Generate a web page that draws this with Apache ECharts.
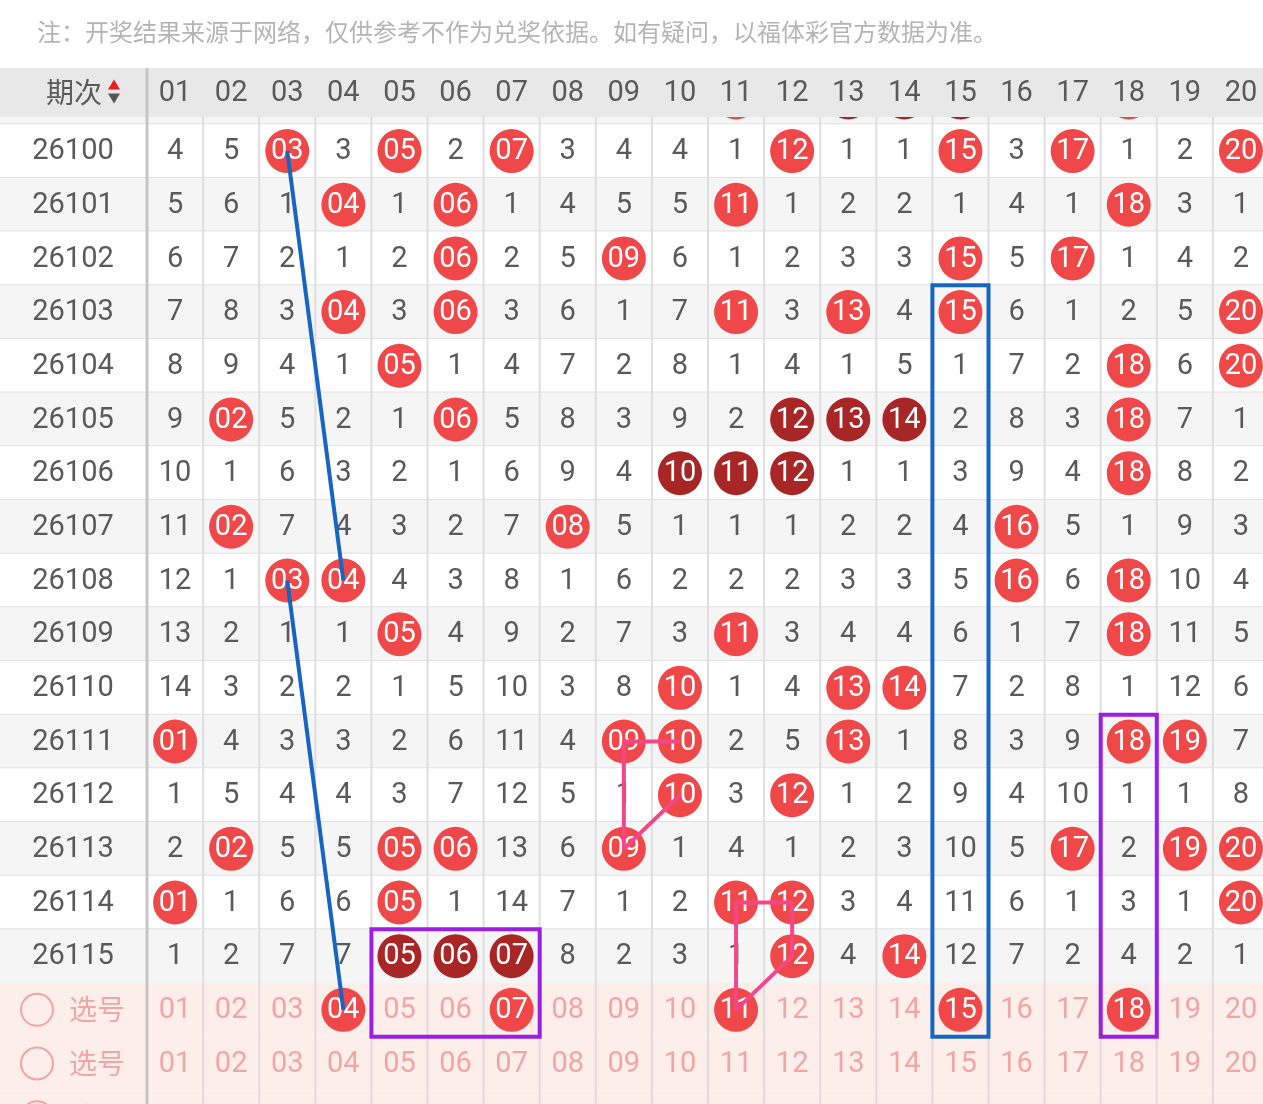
<!DOCTYPE html>
<html><head><meta charset="utf-8">
<script src="https://cdn.jsdelivr.net/npm/echarts@6/dist/echarts.min.js"></script>
<style>html,body{margin:0;padding:0;background:#fff}#c{width:1263px;height:1104px}</style>
</head><body><div id="c"></div>
<script>
// ---------- data ----------
const noteText = '注：开奖结果来源于网络，仅供参考不作为兑奖依据。如有疑问，以福体彩官方数据为准。';
const headerTitle = '期次';
const columns = ['01','02','03','04','05','06','07','08','09','10','11','12','13','14','15','16','17','18','19','20'];
const periods = ['26099','26100','26101','26102','26103','26104','26105','26106','26107','26108','26109','26110','26111','26112','26113','26114','26115'];
const pickLabel = '选号';
const pickRowCount = 3;
// omission values per period; 0 = number drawn in that period
const omission = [
  [3,4,2,2,1,1,5,2,3,3,0,6,0,0,0,2,1,0,1,4],
  [4,5,0,3,0,2,0,3,4,4,1,0,1,1,0,3,0,1,2,0],
  [5,6,1,0,1,0,1,4,5,5,0,1,2,2,1,4,1,0,3,1],
  [6,7,2,1,2,0,2,5,0,6,1,2,3,3,0,5,0,1,4,2],
  [7,8,3,0,3,0,3,6,1,7,0,3,0,4,0,6,1,2,5,0],
  [8,9,4,1,0,1,4,7,2,8,1,4,1,5,1,7,2,0,6,0],
  [9,0,5,2,1,0,5,8,3,9,2,0,0,0,2,8,3,0,7,1],
  [10,1,6,3,2,1,6,9,4,0,0,0,1,1,3,9,4,0,8,2],
  [11,0,7,4,3,2,7,0,5,1,1,1,2,2,4,0,5,1,9,3],
  [12,1,0,0,4,3,8,1,6,2,2,2,3,3,5,0,6,0,10,4],
  [13,2,1,1,0,4,9,2,7,3,0,3,4,4,6,1,7,0,11,5],
  [14,3,2,2,1,5,10,3,8,0,1,4,0,0,7,2,8,1,12,6],
  [0,4,3,3,2,6,11,4,0,0,2,5,0,1,8,3,9,0,0,7],
  [1,5,4,4,3,7,12,5,1,0,3,0,1,2,9,4,10,1,1,8],
  [2,0,5,5,0,0,13,6,0,1,4,1,2,3,10,5,0,2,0,0],
  [0,1,6,6,0,1,14,7,1,2,0,0,3,4,11,6,1,3,1,0],
  [1,2,7,7,0,0,0,8,2,3,1,0,4,0,12,7,2,4,2,1]
];
const pickedNumbers = [4,7,11,15,18];           // selected in first 选号 row
// annotation polylines, as [column, rowIndex] cell references
const blueLinks = [ [[3,1],[4,9]], [[3,9],[4,17]] ];
const pinkLinks = [ [[10,12],[9,12],[9,14],[10,13]], [[11,15],[12,15],[12,16],[11,17],[11,15]] ];
// annotation boxes: [firstCol, lastCol, firstRow, lastRow]
const blueBoxes = [ [15,15,4,17] ];
const purpleBoxes = [ [18,18,12,17], [5,7,16,17] ];

// ---------- layout / style ----------
const COL_W = 56.1, LEFT_W = 147, ROW_H = 53.67, GRID_TOP = 70.6;
const HEADER_TOP = 68, HEADER_H = 49;
const XMIN = 0.5 - LEFT_W / COL_W, XMAX = columns.length + 0.5;
const NROWS = periods.length + pickRowCount;
const NUM_FONT = 'Roboto, "Noto Sans", sans-serif';
const CJK_FONT = '"Noto Sans CJK SC", "Noto Sans", sans-serif';
const TXT = '#5a5a5a', RED = '#f04848', DARK = '#a82626', PINK_TXT = '#f2a5a5';
const BALL_R = 22;
const FS = 29;

function runLen(row, i) {
  let a = i, b = i;
  while (a > 0 && row[a-1] === 0) a--;
  while (b < row.length-1 && row[b+1] === 0) b++;
  return b - a + 1;
}

// cells
const cellMeta = [], cellData = [];
omission.forEach((row, r) => row.forEach((v, i) => {
  const kind = v === 0 ? (runLen(row, i) >= 3 ? 'dark' : 'ball') : 'num';
  cellData.push([i+1, r]);
  cellMeta.push({ text: v === 0 ? columns[i] : String(v), kind });
}));
for (let k = 0; k < pickRowCount; k++) {
  const r = periods.length + k;
  columns.forEach((lab, i) => {
    const sel = k === 0 && pickedNumbers.includes(i+1);
    cellData.push([i+1, r]);
    cellMeta.push({ text: lab, kind: sel ? 'ball' : 'pick' });
  });
}

function txt(x, y, text, font, fill, align) {
  return { type: 'text', style: { text, x, y, font, fill,
    textAlign: align || 'center', textVerticalAlign: 'middle', align: align || 'center', verticalAlign: 'middle' } };
}

const rowIdx = Array.from({length: NROWS}, (_, i) => [0, i]);

const option = {
  animation: false,
  backgroundColor: '#ffffff',
  grid: { left: 0, top: GRID_TOP, width: LEFT_W + columns.length * COL_W, height: NROWS * ROW_H,
          outerBoundsMode: 'none', containLabel: false },
  xAxis: { type: 'value', min: XMIN, max: XMAX, show: false },
  yAxis: { type: 'value', min: -0.5, max: NROWS - 0.5, inverse: true, show: false },
  graphic: [
    { type: 'text', left: 37, top: 20, z: 100,
      style: { text: noteText, font: '24px ' + CJK_FONT, fill: '#b4b4b4' } }
  ],
  series: [
    { // row backgrounds + horizontal lines
      type: 'custom', z: 1, silent: true, data: rowIdx,
      renderItem(params, api) {
        const r = api.value(1);
        const p0 = api.coord([XMIN, r - 0.5]), p1 = api.coord([XMAX, r + 0.5]);
        const fill = r >= periods.length ? '#fdeeea' : (r % 2 === 0 ? '#f5f5f5' : '#ffffff');
        const ch = [{ type: 'rect', shape: { x: p0[0], y: p0[1], width: p1[0]-p0[0], height: p1[1]-p0[1] }, style: { fill } }];
        if (r < periods.length - 1) ch.push({ type: 'line', shape: { x1: p0[0], y1: p1[1], x2: p1[0], y2: p1[1] }, style: { stroke: '#e1e1e1', lineWidth: 2 } });
        return { type: 'group', children: ch };
      }
    },
    { // vertical column lines
      type: 'custom', z: 2, silent: true, data: columns.map((_, i) => [i + 1, 0]),
      renderItem(params, api) {
        const c = api.value(0);
        const a = api.coord([c + 0.5, -0.5]), b = api.coord([c + 0.5, NROWS - 0.5]);
        return { type: 'line', shape: { x1: a[0], y1: a[1], x2: b[0], y2: b[1] }, style: { stroke: '#dedede', lineWidth: 2 } };
      }
    },
    { // left labels
      type: 'custom', z: 3, silent: true, data: rowIdx,
      renderItem(params, api) {
        const r = api.value(1);
        const p = api.coord([XMIN, r]);
        if (r < periods.length) return txt(p[0] + 73, p[1] + 1, periods[r], FS + 'px ' + NUM_FONT, TXT);
        return { type: 'group', children: [
          { type: 'circle', shape: { cx: p[0] + 37, cy: p[1], r: 16 }, style: { fill: 'none', stroke: '#f2a3a3', lineWidth: 2 } },
          txt(p[0] + 97, p[1], pickLabel, '28px ' + CJK_FONT, PINK_TXT)
        ]};
      }
    },
    { // cells
      type: 'custom', z: 4, silent: true, data: cellData,
      renderItem(params, api) {
        const m = cellMeta[params.dataIndex];
        const p = api.coord([api.value(0), api.value(1)]);
        const font = FS + 'px ' + NUM_FONT;
        if (m.kind === 'num') return txt(p[0], p[1] + 1, m.text, font, TXT);
        if (m.kind === 'pick') return txt(p[0], p[1] + 1, m.text, font, PINK_TXT);
        return { type: 'group', children: [
          { type: 'circle', shape: { cx: p[0], cy: p[1], r: BALL_R }, style: { fill: m.kind === 'dark' ? DARK : RED } },
          txt(p[0], p[1] + 1, m.text, font, '#ffffff')
        ]};
      }
    },
    ...blueLinks.map(d => ({ type: 'line', z: 6, data: d, symbol: 'none', silent: true,
      lineStyle: { color: '#1565c4', width: 4 } })),
    ...pinkLinks.map(d => ({ type: 'line', z: 6, data: d, symbol: 'none', silent: true,
      lineStyle: { color: '#f4478a', width: 4 } })),
    ...[[blueBoxes, '#1565c4'], [purpleBoxes, '#9a1fe2']].map(([boxes, color]) => ({
      type: 'custom', z: 7, silent: true, data: boxes,
      renderItem(params, api) {
        const a = api.coord([api.value(0) - 0.5, api.value(2) - 0.5]);
        const b = api.coord([api.value(1) + 0.5, api.value(3) + 0.5]);
        return { type: 'rect', shape: { x: a[0], y: a[1], width: b[0]-a[0], height: b[1]-a[1] },
          style: { fill: 'none', stroke: color, lineWidth: 4 } };
      }
    })),
    { // header row
      type: 'custom', z: 10, silent: true, data: [[0, 0]].concat(columns.map((_, i) => [i + 1, 0])),
      renderItem(params, api) {
        const c = api.value(0);
        const cy = HEADER_TOP + HEADER_H / 2;
        if (c === 0) {
          const l = api.coord([XMIN, 0])[0], rr = api.coord([XMAX, 0])[0];
          const sx = api.coord([0.5, 0])[0];
          return { type: 'group', children: [
            { type: 'rect', shape: { x: l, y: HEADER_TOP, width: rr - l, height: HEADER_H }, style: { fill: '#e8e8e8' } },
            txt(l + 102, cy, headerTitle, '28px ' + CJK_FONT, TXT, 'right'),
            { type: 'polygon', shape: { points: [[l+114, cy-13],[l+108, cy-3],[l+120, cy-3]] }, style: { fill: '#ee1c1c' } },
            { type: 'polygon', shape: { points: [[l+108, cy+1],[l+120, cy+1],[l+114, cy+11]] }, style: { fill: '#555555' } },
            { type: 'line', shape: { x1: sx, y1: HEADER_TOP, x2: sx, y2: 1200 }, style: { stroke: '#c6c6c6', lineWidth: 3 } }
          ]};
        }
        const x = api.coord([c, 0])[0];
        return txt(x, cy + 1, columns[c - 1], FS + 'px ' + NUM_FONT, TXT);
      }
    }
  ]
};
const chart = echarts.init(document.getElementById('c'), null, { renderer: 'canvas' });
chart.setOption(option);
</script>
</body></html>
